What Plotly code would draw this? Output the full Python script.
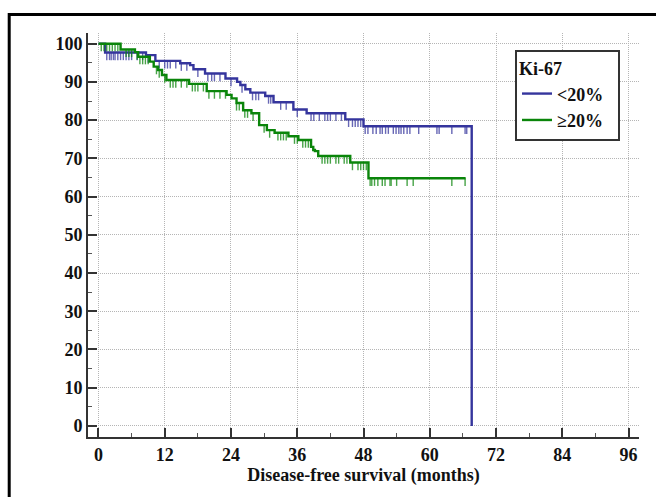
import numpy as np
import plotly.graph_objects as go

# ---- data ----
blue_label = "<20%"
green_label = "≥20%"

blue_times = [0, 1.2, 8.6, 10.3, 14.8, 16.6, 17.2, 19.3, 23.0, 25.1, 25.7, 26.6, 27.5, 30.2, 31.7, 35.3, 37.7, 44.7, 48.0, 67.6, 67.6]
blue_surv = [100, 97.7, 97.0, 95.5, 94.9, 94.4, 93.3, 92.2, 90.9, 90.0, 89.2, 88.1, 87.2, 86.3, 84.7, 82.8, 81.8, 80.2, 78.4, 78.4, 0]
blue_censored = [1.5, 2, 2.3, 2.7, 3, 3.5, 4, 4.5, 5, 5.5, 6, 7, 8, 9, 11, 12, 12.5, 13, 14, 15,
                 16, 18, 19.8, 20.5, 21, 22, 24, 26, 27.9, 28.5, 29, 30.8, 31.2, 33, 34, 36, 38.5,
                 39, 40, 41, 41.5, 42, 43, 44, 45.3, 46, 46.5, 47, 47.5, 48.3, 48.8, 49.7, 50.3, 51,
                 51.4, 52, 52.5, 53.4, 53.9, 54.4, 54.8, 55.3, 55.9, 56.4, 58, 61.3, 61.7, 64, 66.4, 66.7]

green_times = [0, 4.0, 6.6, 7.2, 9.3, 10.0, 10.8, 11.5, 12.3, 16.4, 19.6, 23.2, 24.1, 25.0, 26.2, 27.7,
               29.1, 30.5, 31.9, 34.4, 36.2, 38.5, 38.9, 39.2, 39.8, 45.6, 48.9, 66.5]
green_surv = [100, 98.5, 97.8, 96.6, 95.3, 94.0, 93.1, 91.8, 90.5, 89.5, 87.6, 86.6, 85.7, 84.5, 82.6, 81.8,
              78.7, 77.4, 76.7, 75.8, 74.8, 73.0, 72.2, 71.9, 70.6, 68.9, 64.8, 64.8]
green_censored = [0.5, 1, 1.5, 2, 2.5, 3, 3.5, 5, 5.5, 6, 7, 7.5, 8, 8.5, 9, 10.5, 11, 12, 13, 13.5,
                  14, 15, 16, 17, 17.5, 18, 19, 20, 21, 22, 23, 25, 25.5, 26.5, 27, 28, 30, 31,
                  32.5, 33, 33.5, 34, 35.5, 36, 37, 37.5, 38, 40.5, 41, 41.5, 42, 43, 43.5, 44.5,
                  45, 46, 47, 47.5, 48, 48.5, 49.2, 49.5, 50, 50.6, 51.4, 51.9, 52.8, 53, 54, 55.9,
                  57, 64, 66.4]

x_ticks = [0, 12, 24, 36, 48, 60, 72, 84, 96]
y_ticks = [0, 10, 20, 30, 40, 50, 60, 70, 80, 90, 100]

BLUE = "#35359d"
GREEN = "#0a850a"
TICK_DROP = 2.0
PAD = "\u00a0\u00a0"


def censor_segments(times, surv, cens):
    t = np.array(times)
    s = np.array(surv)
    xs, ys = [], []
    for c in cens:
        i = np.searchsorted(t, c, side="right") - 1
        v = s[i]
        xs += [c, c, None]
        ys += [v, v - TICK_DROP, None]
    return xs, ys


fig = go.Figure()

for times, surv, cens, col, name in [
    (blue_times, blue_surv, blue_censored, BLUE, blue_label),
    (green_times, green_surv, green_censored, GREEN, green_label),
]:
    cx, cy = censor_segments(times, surv, cens)
    fig.add_trace(go.Scatter(x=cx, y=cy, mode="lines", line=dict(color=col, width=1.4),
                             opacity=0.75, showlegend=False, hoverinfo="skip"))
    fig.add_trace(go.Scatter(x=times, y=surv, mode="lines", line=dict(color=col, width=2.4, shape="hv"),
                             name=name + PAD))

axis_font = dict(family="Liberation Serif", size=18, color="#111", weight="bold")
legend_font = dict(family="Liberation Serif", size=18, color="#111", weight="bold")

fig.update_layout(
    width=656, height=497,
    margin=dict(l=88, r=17, t=33, b=60),
    paper_bgcolor="white", plot_bgcolor="white",
    showlegend=True,
    legend=dict(
        title=dict(text="Ki-67", font=legend_font),
        font=legend_font,
        x=0.775, y=0.958, xanchor="left", yanchor="top",
        bgcolor="white", bordercolor="#333", borderwidth=2,
        itemwidth=30, tracegroupgap=0,
    ),
    xaxis=dict(
        range=[-1.9, 97.9], tickvals=x_ticks, ticktext=[str(v) for v in x_ticks],
        showline=True, linecolor="#333", linewidth=2,
        ticks="inside", ticklen=9, tickwidth=2, tickcolor="#333",
        minor=dict(ticks="inside", ticklen=4, tickwidth=1, tickcolor="#555", dtick=6, tick0=0, showgrid=False),
        showgrid=True, gridcolor="#b5b5b5", griddash="1px,1px", gridwidth=1,
        zeroline=False, tickfont=axis_font,
        title=dict(text="Disease-free survival (months)", font=axis_font, standoff=4),
    ),
    yaxis=dict(
        range=[-2.9, 102.8], tickvals=y_ticks, ticktext=[str(v) for v in y_ticks],
        showline=True, linecolor="#333", linewidth=2,
        ticks="inside", ticklen=9, tickwidth=2, tickcolor="#333",
        minor=dict(ticks="inside", ticklen=4, tickwidth=1, tickcolor="#555", dtick=5, tick0=0, showgrid=False),
        showgrid=True, gridcolor="#b5b5b5", griddash="1px,1px", gridwidth=1,
        zeroline=False, tickfont=axis_font,
    ),
    shapes=[dict(type="rect", xref="paper", yref="paper", x0=-0.143, x1=1.5, y0=-0.5, y1=1.046,
                 line=dict(color="black", width=3), layer="above")],
)

fig.write_html("out.html", config={"displayModeBar": False},
               post_script="document.body.style.margin='0';")
